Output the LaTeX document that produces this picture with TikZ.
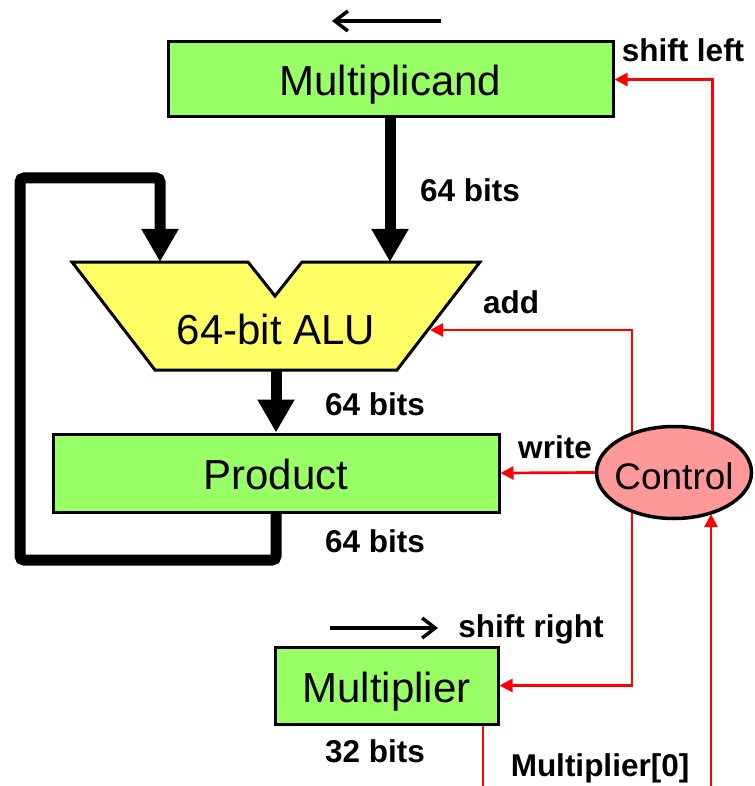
\documentclass[tikz,border=0pt]{standalone}
\usepackage{fontspec}
\setmainfont{Liberation Sans}
\usetikzlibrary{arrows.meta,shapes.geometric}

\definecolor{regGreen}{HTML}{99FF66}
\definecolor{aluYellow}{HTML}{FFFF66}
\definecolor{ctrlPink}{HTML}{FF9999}
\newcommand{\boxfont}{\fontsize{42pt}{48pt}\selectfont}
\newcommand{\lblfont}{\bfseries\fontsize{31.5pt}{36pt}\selectfont}

\tikzset{
  reg/.style={draw=black, line width=3pt, fill=regGreen, font=\boxfont, inner sep=0pt,
    text height=33pt, text depth=0pt},
  bus/.style={line width=11pt, -{Triangle[width=35pt,length=33pt]}},
  ctl/.style={red, line width=2.7pt, -{Triangle[width=13pt,length=13pt]}},
  lbl/.style={font=\lblfont, anchor=base, inner sep=0pt},
  shiftarrow/.style={line width=3.5pt, -{Straight Barb[length=13pt,width=20pt]}}
}

\begin{document}
\begin{tikzpicture}[x=1pt, y=-1pt]
        \useasboundingbox (0,0) rectangle (754,786);
        % registers
        \node[reg, minimum width=445pt, minimum height=75pt] (mcand) at (390.5,79.5) {Multiplicand};
        \node[reg, minimum width=446pt, minimum height=78pt] (prod) at (276,473) {Product};
        \node[reg, minimum width=223pt, minimum height=77pt] (mplier) at (386.5,685.5) {Multiplier};
        % the ALU
        \draw[line width=3pt, fill=aluYellow, line join=miter] (72,262) -- (248,262) -- (275,296) -- (302,262)
            -- (480,262) -- (397,370) -- (155,370) -- cycle;
        \node[font=\boxfont, inner sep=0pt, text height=33pt, text depth=0pt] (alu) at (276,327.5) {64-bit ALU};
        \coordinate (aluA) at (160,262);
        \coordinate (aluB) at (390,262);
        \coordinate (aluC) at (430,330);
        \coordinate (aluOut) at (276,370);
        % control
        \node[ellipse, draw=black, line width=3.5pt, fill=ctrlPink, minimum width=155pt, minimum height=92pt,
            inner ysep=0pt, inner xsep=-6pt, text height=33pt, text depth=0pt,
            font=\fontsize{37pt}{42pt}\selectfont] (ctrl) at (674,472.5) {Control};
        % data paths
        \draw[bus] (mcand.south -| aluB) -- (aluB);
        \draw[bus] (aluOut) -- (prod.north);
        \draw[bus, rounded corners=4pt] (prod.south) |- (20,560) |- (160,178) -- (aluA);
        % control lines
        \draw[ctl] (ctrl.47) |- (mcand.east);
        \draw[ctl] (ctrl.136) |- (aluC);
        \draw[ctl] (ctrl.west) -- (prod.east);
        \draw[ctl] (ctrl.224) |- (mplier.east);
        \coordinate (m0out) at (483,786);
        \coordinate (m0in) at (711,786);
        \draw[red, line width=2.7pt] (m0out |- mplier.south) -- (m0out);
        \draw[ctl] (m0in) -- (m0in |- ctrl.313);
        % shift directions
        \draw[shiftarrow] (441,21) -- (332,21);
        \draw[shiftarrow] (330,628) -- (438,628);
        % labels
        \node[lbl] (lshl) at (683,62) {shift left};
        \node[lbl] (lb1) at (470,202) {64 bits};
        \node[lbl] (ladd) at (511,313) {add};
        \node[lbl] (lb2) at (375,415) {64 bits};
        \node[lbl] (lwr) at (555,458) {write};
        \node[lbl] (lb3) at (375,552) {64 bits};
        \node[lbl] (lshr) at (531,637) {shift right};
        \node[lbl] (lb4) at (375,762) {32 bits};
        \node[lbl] (lm0) at (600,776) {Multiplier[0]};
    \end{tikzpicture}
\end{document}
